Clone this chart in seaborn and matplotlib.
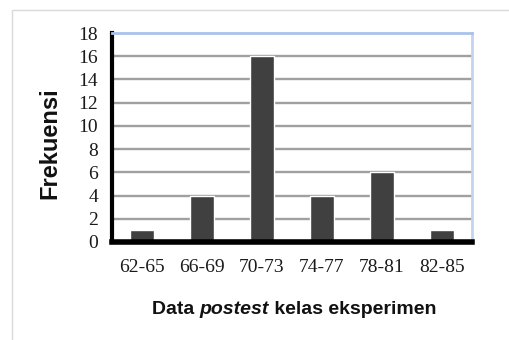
import matplotlib
matplotlib.use("Agg")
import matplotlib.pyplot as plt
import seaborn as sns
import pandas as pd
from matplotlib.patches import Rectangle

# Frequency distribution of post-test scores (experimental class)
categories = ["62-65", "66-69", "70-73", "74-77", "78-81", "82-85"]
frequencies = [1, 4, 16, 4, 6, 1]
y_ticks = [0, 2, 4, 6, 8, 10, 12, 14, 16, 18]

df = pd.DataFrame({"interval": categories, "frekuensi": frequencies})

sns.set_theme(style="white")
plt.rcParams["font.family"] = ["Liberation Serif", "DejaVu Serif"]

fig = plt.figure(figsize=(5.09, 3.40), dpi=100)
fig.patch.set_facecolor("white")

# thin light frame around the chart area
fig.add_artist(Rectangle((12 / 509, -0.05), 1.2, 1 - 10 / 340 + 0.05,
                         transform=fig.transFigure, fill=False,
                         edgecolor="#D9D9D9", linewidth=1.0))

ax = fig.add_axes([112 / 509, 1 - 242 / 340, 360 / 509, 209 / 340])
sns.barplot(data=df, x="interval", y="frekuensi", color="#404040",
            saturation=1, width=0.4, ax=ax, zorder=3)

ax.set_ylim(0, 18)
ax.set_xlim(-0.5, len(categories) - 0.5)
ax.set_yticks(y_ticks)
ax.set_yticklabels([str(t) for t in y_ticks])

for t in y_ticks[1:-1]:
    ax.axhline(t, color="#A0A0A0", linewidth=1.7, zorder=1)

ax.spines["left"].set_color("black")
ax.spines["left"].set_linewidth(3.0)
ax.spines["bottom"].set_color("black")
ax.spines["bottom"].set_linewidth(4.0)
ax.spines["top"].set_color("#A9C2EA")
ax.spines["top"].set_linewidth(2.0)
ax.spines["right"].set_color("#C3D4F0")
ax.spines["right"].set_linewidth(2.0)
for s in ax.spines.values():
    s.set_zorder(4)

ax.tick_params(axis="both", length=0, labelsize=14, colors="#1A1A1A")
ax.tick_params(axis="y", pad=10)
ax.tick_params(axis="x", pad=12)
ax.set_xlabel("")
ax.set_ylabel("Frekuensi", family=["Liberation Sans", "DejaVu Sans"],
              fontweight="bold", fontsize=17, color="#111111", va="center")
ax.yaxis.set_label_coords(-0.172, 0.474)

# x-axis caption with an italic word in the middle
parts = [("Data ", "normal"), ("postest", "italic"), (" kelas eksperimen", "normal")]
fig.canvas.draw()
renderer = fig.canvas.get_renderer()
texts = []
widths = []
for s, style in parts:
    t = fig.text(0, 0, s, family=["Liberation Sans", "DejaVu Sans"],
                 fontweight="bold", style=style, fontsize=14, color="#111111",
                 va="center", ha="left")
    bb = t.get_window_extent(renderer)
    texts.append(t)
    widths.append(bb.width)
total = sum(widths)
x0 = 294 / 509 * fig.bbox.width - total / 2
y = 1 - 310 / 340
for t, w in zip(texts, widths):
    t.set_position((x0 / fig.bbox.width, y))
    x0 += w

fig.savefig("out.png", dpi=100)
